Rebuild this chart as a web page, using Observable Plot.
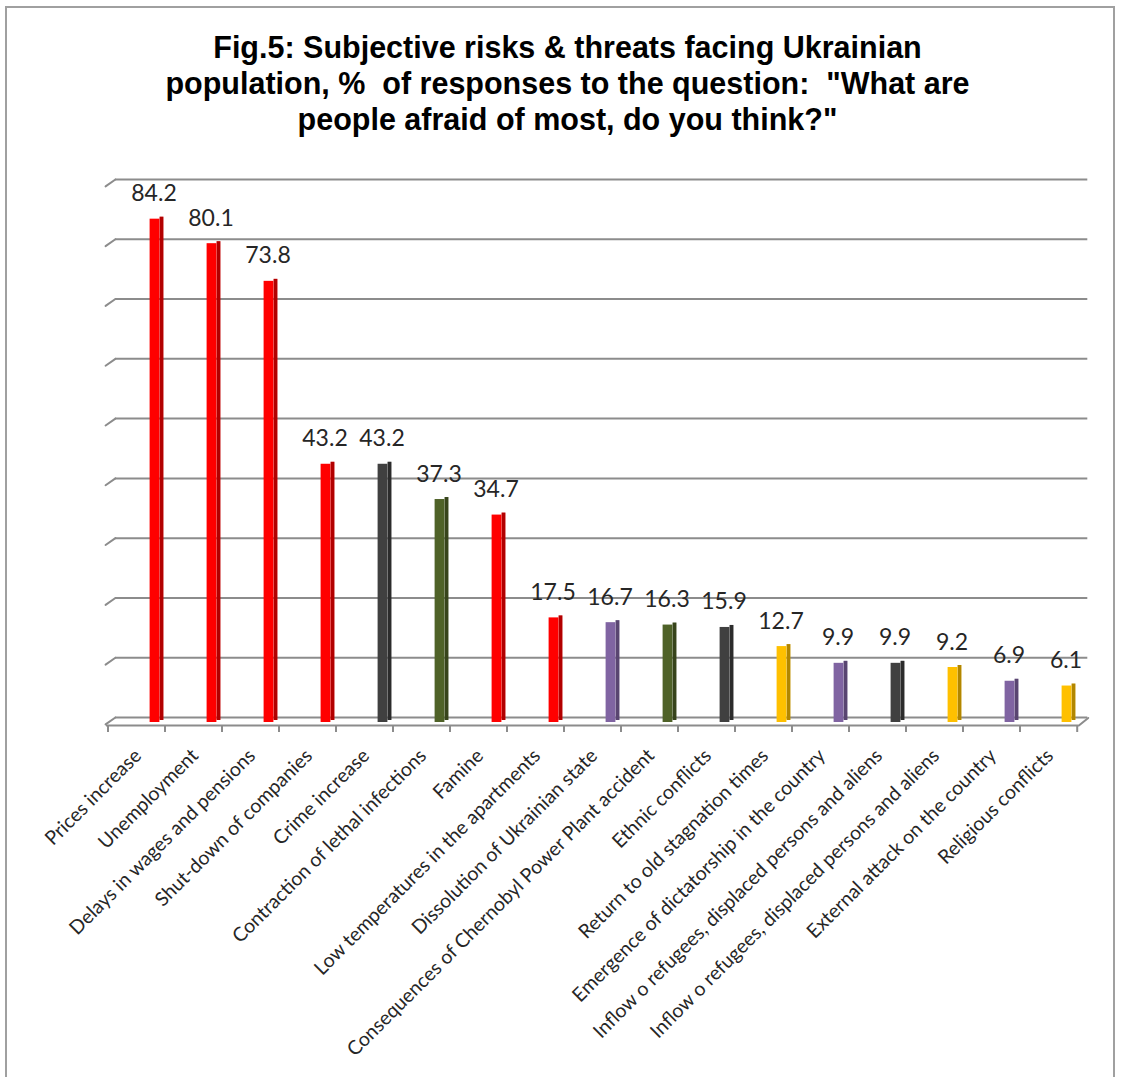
<!DOCTYPE html>
<html><head><meta charset="utf-8">
<script src="https://cdn.jsdelivr.net/npm/d3@7"></script>
<script src="https://cdn.jsdelivr.net/npm/@observablehq/plot@0.6"></script>
<style>
body{margin:0;background:#fff;}
#wrap{position:relative;width:1121px;height:1077px;overflow:hidden;background:#fff;}
#border{position:absolute;left:5px;top:6px;width:1110px;height:1090px;border:2px solid #a0a0a0;box-sizing:border-box;}
#title{position:absolute;left:7px;top:29px;width:1121px;text-align:center;font:bold 30.5px "Liberation Sans",Arial,sans-serif;line-height:36px;color:#000;white-space:pre;}
#chart{position:absolute;left:0;top:150px;}
</style></head>
<body><div id="wrap"><div id="border"></div><div id="title"></div><div id="chart"></div></div>
<script>
const titleLines = [
  "Fig.5: Subjective risks & threats facing Ukrainian",
  "population, %  of responses to the question:  \"What are",
  "people afraid of most, do you think?\""
];
const categories = [
  "Prices increase",
  "Unemployment",
  "Delays in wages and pensions",
  "Shut-down of companies",
  "Crime increase",
  "Contraction of lethal infections",
  "Famine",
  "Low temperatures in the apartments",
  "Dissolution of Ukrainian state",
  "Consequences of Chernobyl Power Plant accident",
  "Ethnic conflicts",
  "Return to old stagnation times",
  "Emergence of dictatorship in the country",
  "Inflow o refugees, displaced persons and aliens",
  "Inflow o refugees, displaced persons and aliens",
  "External attack on the country",
  "Religious conflicts"
];
const values = [84.2, 80.1, 73.8, 43.2, 43.2, 37.3, 34.7, 17.5, 16.7, 16.3, 15.9, 12.7, 9.9, 9.9, 9.2, 6.9, 6.1];
const groups = ["A","A","A","A","B","C","A","A","D","C","B","E","D","B","E","D","E"];
const gridTicks = [0, 10, 20, 30, 40, 50, 60, 70, 80, 90];

document.getElementById("title").textContent = titleLines.join("\n");

const idx = d3.range(categories.length);
const data = idx.map(i => ({i, v: values[i], g: groups[i]}));
const gridColor = "#8c8c8c";
const slant = {draw(context, l) { context.moveTo(0, 0); context.lineTo(0, -l); }};
const labelFont = "Lato, 'Open Sans', sans-serif";

const chart = Plot.plot({
  width: 1121, height: 927,
  marginTop: 29, marginBottom: 360, marginLeft: 124.4, marginRight: 24.2,
  style: {background: "transparent", overflow: "visible"},
  x: {type: "band", domain: idx, padding: 0, axis: null, label: null},
  y: {domain: [0, 90], axis: null, label: null},
  color: {domain: ["A","B","C","D","E"], range: ["#ff0000","#404040","#4f6228","#8064a2","#ffc000"]},
  marks: [
    Plot.ruleY(gridTicks, {stroke: gridColor, strokeWidth: 2, dx: -9.5}),
    Plot.vector(gridTicks, {y: d => d, frameAnchor: "left", dx: -9.5, length: 12, rotate: 235, anchor: "start", shape: slant, stroke: gridColor, strokeWidth: 2}),
    Plot.ruleY([0], {stroke: gridColor, strokeWidth: 2, dx: -18.4, dy: 8}),
    Plot.vector([0], {y: d => d, frameAnchor: "right", dx: -18.4, dy: 8, length: 12, rotate: 51, anchor: "start", shape: slant, stroke: gridColor, strokeWidth: 2}),
    Plot.axisX({ticks: idx, tickSize: 7, dy: 8, dx: -47, tickFormat: () => "", label: null, stroke: gridColor, strokeWidth: 2}),
    Plot.axisX({ticks: [idx[idx.length - 1]], tickSize: 7, dy: 8, dx: 10.2, tickFormat: () => "", label: null, stroke: gridColor, strokeWidth: 2}),
    Plot.axisX({ticks: idx, tickSize: 0, tickPadding: 35, tickRotate: -45, dx: -17, tickFormat: i => categories[i], label: null, fontSize: 19.5, fontFamily: labelFont, fill: "#262626"}),
    Plot.barY(data, {x: "i", y: "v", fill: "g", insetLeft: 33.6, insetRight: 19.6, dy: 3}),
    Plot.barY(data, {x: "i", y: "v", fill: "#000", fillOpacity: 0.3, insetLeft: 33.6, insetRight: 19.6, dy: 3}),
    Plot.barY(data, {x: "i", y: "v", fill: "g", insetLeft: 23.6, insetRight: 23.6, dy: 5}),
    Plot.text(data, {x: "i", y: "v", text: d => d.v.toFixed(1), dy: -13, dx: -1, lineAnchor: "bottom", fontSize: 23, fontFamily: labelFont, fill: "#262626"})
  ]
});
document.getElementById("chart").appendChild(chart);
</script>
</body></html>
